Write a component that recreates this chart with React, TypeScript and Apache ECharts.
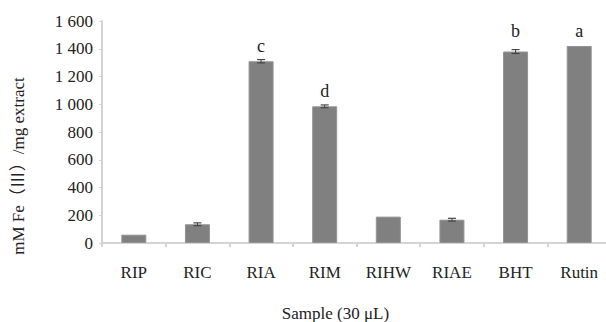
import React, { useEffect, useRef } from "react";
import * as echarts from "echarts";

const categories = ["RIP", "RIC", "RIA", "RIM", "RIHW", "RIAE", "BHT", "Rutin"];
const values = [60, 135, 1310, 985, 190, 168, 1380, 1420];
const errors = [0, 10, 12, 10, 0, 10, 14, 0];
const letters = ["", "", "c", "d", "", "", "b", "a"];
const yTicks = [0, 200, 400, 600, 800, 1000, 1200, 1400, 1600];

const serif = "'Times New Roman', 'Liberation Serif', serif";

export default function App() {
  const ref = useRef<HTMLDivElement>(null);
  useEffect(() => {
    if (!ref.current) return;
    const chart = echarts.init(ref.current, undefined, { renderer: "svg" });
    const errData = values.map((v, i) => [i, v, errors[i]]);
    chart.setOption({
      animation: false,
      backgroundColor: "#ffffff",
      textStyle: { fontFamily: serif },
      grid: { left: 102, top: 21, bottom: 79, width: 509, containLabel: false, outerBoundsMode: "none" },
      xAxis: {
        type: "category",
        data: categories,
        axisLine: { lineStyle: { color: "#d4d4d4", width: 2 } },
        axisTick: { show: true, length: 4, lineStyle: { color: "#d4d4d4", width: 2 } },
        axisLabel: { color: "#222", fontFamily: serif, fontSize: 17, margin: 21 },
        name: "Sample (30 μL)",
        nameLocation: "middle",
        nameGap: 62,
        nameTextStyle: { color: "#222", fontFamily: serif, fontSize: 17, padding: [0, 42, 0, 0] },
      },
      yAxis: {
        type: "value",
        min: yTicks[0],
        max: yTicks[yTicks.length - 1],
        interval: 200,
        splitLine: { show: false },
        axisLine: { show: true, lineStyle: { color: "#d4d4d4", width: 2 } },
        axisTick: { show: true, length: 3, lineStyle: { color: "#d4d4d4", width: 1 } },
        axisLabel: {
          color: "#222",
          fontFamily: serif,
          fontSize: 17,
          margin: 9,
          formatter: (v: number) => String(v).replace(/\B(?=(\d{3})+(?!\d))/g, " "),
        },
      },
      series: [
        {
          type: "bar",
          data: values.map((v, i) => ({
            value: v,
            label: {
              show: letters[i] !== "",
              formatter: letters[i],
              position: "top",
              distance: i === 6 ? 12 : 6,
              color: "#222",
              fontFamily: serif,
              fontSize: 18,
            },
          })),
          barWidth: 25,
          itemStyle: { color: "#808080", borderColor: "#939393", borderWidth: 1 },
        },
        {
          type: "custom",
          data: errData,
          z: 5,
          renderItem: (params: any, api: any) => {
            const i = api.value(0);
            const v = api.value(1);
            const e = api.value(2);
            if (!e) return null;
            const top = api.coord([i, v + e]);
            const bot = api.coord([i, v - e]);
            const cx = top[0];
            return {
              type: "group",
              children: [
                { type: "line", shape: { x1: cx, y1: top[1], x2: cx, y2: bot[1] }, style: { stroke: "#444", lineWidth: 1 } },
                { type: "line", shape: { x1: cx - 4, y1: top[1], x2: cx + 4, y2: top[1] }, style: { stroke: "#444", lineWidth: 1.2 } },
                { type: "line", shape: { x1: cx - 4, y1: bot[1], x2: cx + 4, y2: bot[1] }, style: { stroke: "#444", lineWidth: 1.2 } },
              ],
            };
          },
        },
      ],
      graphic: [
        {
          type: "text",
          x: 18,
          y: 166,
          rotation: Math.PI / 2,
          style: {
            text: "mM Fe（Ⅲ）/mg extract",
            fill: "#222",
            font: "17px 'Times New Roman', 'Liberation Serif', 'Noto Sans CJK SC', serif",
            align: "center",
            verticalAlign: "middle",
          },
        },
      ],
    });
    return () => chart.dispose();
  }, []);
  return (
    <div
      ref={ref}
      style={{ position: "fixed", left: 0, top: 0, width: 606, height: 322, background: "#fff" }}
    />
  );
}
